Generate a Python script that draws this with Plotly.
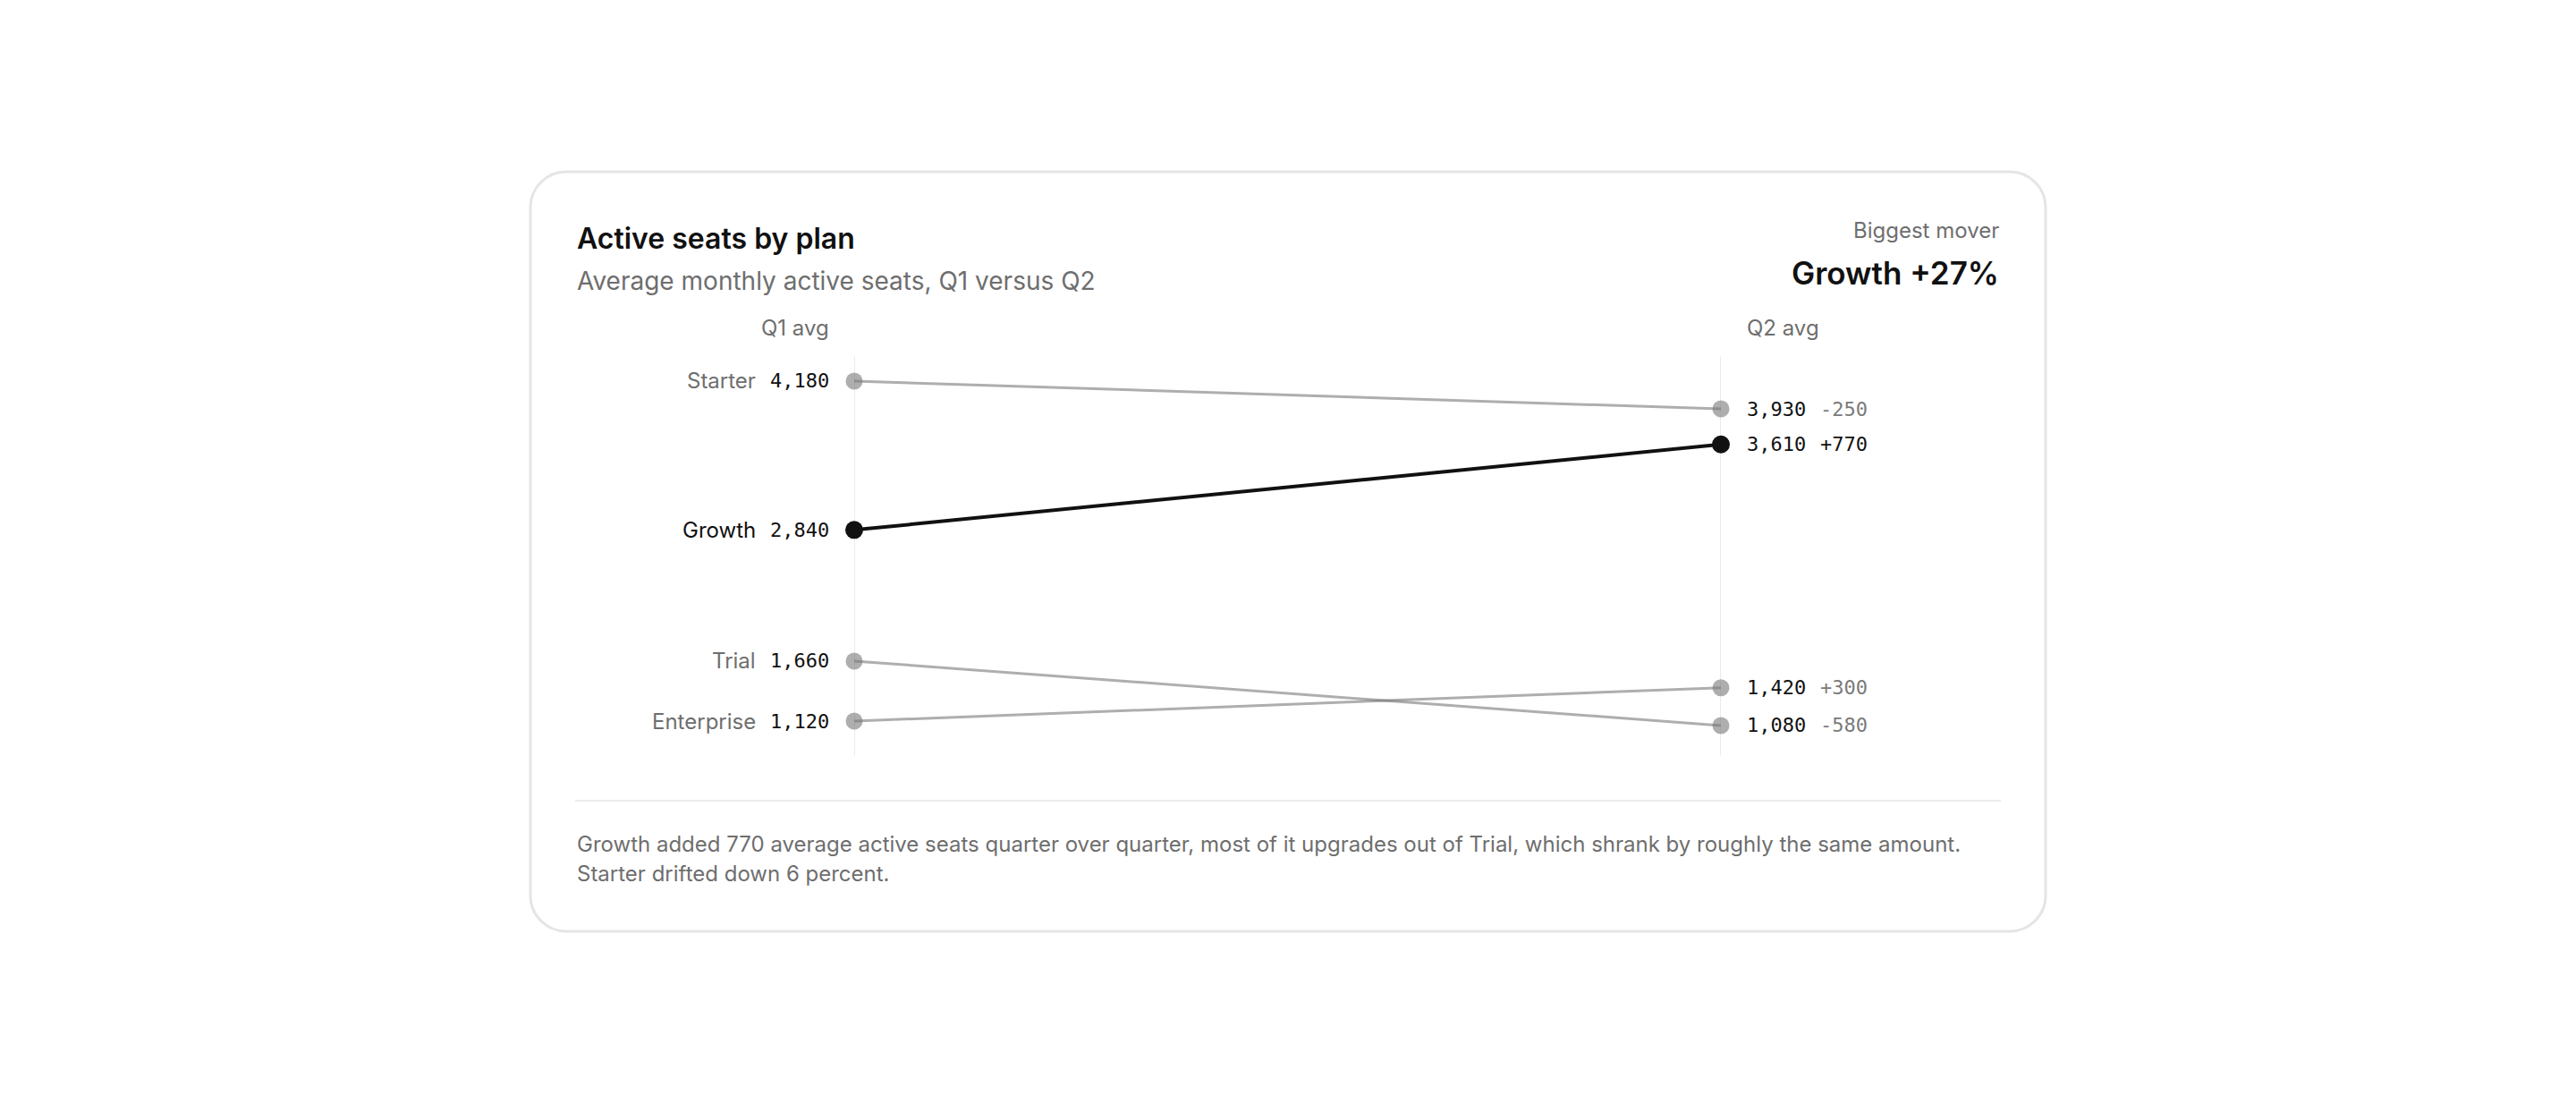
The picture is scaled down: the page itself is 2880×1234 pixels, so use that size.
import plotly.graph_objects as go

# ---- data ----
plans = ["Starter", "Growth", "Trial", "Enterprise"]
q1_avg = [4180, 2840, 1660, 1120]
q2_avg = [3930, 3610, 1080, 1420]
highlight = "Growth"
periods = ["Q1 avg", "Q2 avg"]

title = "Active seats by plan"
subtitle = "Average monthly active seats, Q1 versus Q2"
kpi_label = "Biggest mover"
kpi_value = "Growth +27%"
footnote = [
    "Growth added 770 average active seats quarter over quarter, most of it upgrades out of Trial, which shrank by roughly the same amount.",
    "Starter drifted down 6 percent.",
]

# ---- page geometry (pixels) ----
W, H = 2880, 1234
def px(x):
    return x / W
def py(y):
    return 1 - y / H

SANS = "Inter, 'Noto Sans', sans-serif"
MONO = "'DejaVu Sans Mono', monospace"
INK = "#111111"
MUTED = "#6e6e6e"
GREY = "rgba(120,120,120,0.6)"

plot_left, plot_right = 955, 1924
plot_top, plot_bottom = 398, 845
content_left, content_right = 643, 2237

fig = go.Figure()

for name, a, b in zip(plans, q1_avg, q2_avg):
    hi = name == highlight
    fig.add_trace(go.Scatter(
        x=[0, 1], y=[a, b], mode="lines+markers",
        line=dict(color=INK if hi else GREY, width=4 if hi else 3),
        marker=dict(size=20 if hi else 19, color=INK if hi else GREY),
        cliponaxis=False, hoverinfo="skip", showlegend=False,
    ))

annotations = []
for name, a, b in zip(plans, q1_avg, q2_avg):
    hi = name == highlight
    d = b - a
    annotations.append(dict(x=0, y=a, xref="x", yref="y", text=name, showarrow=False,
                            xanchor="right", yanchor="middle", xshift=-108,
                            font=dict(family=SANS, size=24, color=INK if hi else MUTED)))
    annotations.append(dict(x=0, y=a, xref="x", yref="y", text=f"{a:,}", showarrow=False,
                            xanchor="right", yanchor="middle", xshift=-26,
                            font=dict(family=MONO, size=22, color=INK)))
    annotations.append(dict(x=1, y=b, xref="x", yref="y", text=f"{b:,}", showarrow=False,
                            xanchor="left", yanchor="middle", xshift=27,
                            font=dict(family=MONO, size=22, color=INK)))
    annotations.append(dict(x=1, y=b, xref="x", yref="y", text=f"{d:+,}", showarrow=False,
                            xanchor="left", yanchor="middle", xshift=109,
                            font=dict(family=MONO, size=22, color=INK if hi else "#7a7a7a")))

# column headers
annotations.append(dict(x=0, y=py(366), xref="x", yref="paper", text=periods[0], showarrow=False,
                        xanchor="right", yanchor="middle", xshift=-26,
                        font=dict(family=SANS, size=24, color=MUTED)))
annotations.append(dict(x=1, y=py(366), xref="x", yref="paper", text=periods[1], showarrow=False,
                        xanchor="left", yanchor="middle", xshift=27,
                        font=dict(family=SANS, size=24, color=MUTED)))

# header texts
annotations += [
    dict(x=px(content_left), y=py(266), xref="paper", yref="paper", text=title, showarrow=False,
         xanchor="left", yanchor="middle", font=dict(family=SANS, size=32, color=INK, weight=600)),
    dict(x=px(content_left), y=py(314), xref="paper", yref="paper", text=subtitle, showarrow=False,
         xanchor="left", yanchor="middle", font=dict(family=SANS, size=28, color=MUTED)),
    dict(x=px(content_right), y=py(257), xref="paper", yref="paper", text=kpi_label, showarrow=False,
         xanchor="right", yanchor="middle", font=dict(family=SANS, size=24, color=MUTED)),
    dict(x=px(content_right), y=py(305), xref="paper", yref="paper", text=kpi_value, showarrow=False,
         xanchor="right", yanchor="middle", font=dict(family=SANS, size=35, color=INK, weight=600)),
    dict(x=px(content_left), y=py(943), xref="paper", yref="paper", text=footnote[0], showarrow=False,
         xanchor="left", yanchor="middle", font=dict(family=SANS, size=24, color=MUTED)),
    dict(x=px(content_left), y=py(976), xref="paper", yref="paper", text=footnote[1], showarrow=False,
         xanchor="left", yanchor="middle", font=dict(family=SANS, size=24, color=MUTED)),
]

# card with rounded corners
x0, x1, y0, y1, r = 593, 2287, 192, 1041, 40
k = 0.5523 * r
def P(x, y):
    return f"{px(x):.6f},{py(y):.6f}"
card = (f"M {P(x0 + r, y0)} L {P(x1 - r, y0)} "
        f"C {P(x1 - r + k, y0)} {P(x1, y0 + r - k)} {P(x1, y0 + r)} "
        f"L {P(x1, y1 - r)} "
        f"C {P(x1, y1 - r + k)} {P(x1 - r + k, y1)} {P(x1 - r, y1)} "
        f"L {P(x0 + r, y1)} "
        f"C {P(x0 + r - k, y1)} {P(x0, y1 - r + k)} {P(x0, y1 - r)} "
        f"L {P(x0, y0 + r)} "
        f"C {P(x0, y0 + r - k)} {P(x0 + r - k, y0)} {P(x0 + r, y0)} Z")

shapes = [
    dict(type="path", xref="paper", yref="paper", path=card,
         line=dict(color="#e5e5e5", width=3), fillcolor="white", layer="below"),
    dict(type="line", xref="x", yref="paper", x0=0, x1=0, y0=py(plot_bottom), y1=py(plot_top),
         line=dict(color="#ebebeb", width=2), layer="below"),
    dict(type="line", xref="x", yref="paper", x0=1, x1=1, y0=py(plot_bottom), y1=py(plot_top),
         line=dict(color="#ebebeb", width=2), layer="below"),
    dict(type="line", xref="paper", yref="paper", x0=px(content_left), x1=px(content_right),
         y0=py(895), y1=py(895), line=dict(color="#ececec", width=2), layer="below"),
]

# y scale: 4180 -> 426px, 1080 -> 811px
y_lo, y_hi = 806, 4405

fig.update_layout(
    width=W, height=H, margin=dict(l=0, r=0, t=0, b=0, pad=0),
    paper_bgcolor="white", plot_bgcolor="rgba(0,0,0,0)",
    xaxis=dict(domain=[px(plot_left), px(plot_right)], range=[0, 1], visible=False, fixedrange=True),
    yaxis=dict(domain=[py(plot_bottom), py(plot_top)], range=[y_lo, y_hi], visible=False, fixedrange=True),
    annotations=annotations, shapes=shapes, showlegend=False,
)

fig.write_html("out.html", config={"displayModeBar": False},
               post_script="document.body.style.margin='0';document.body.style.overflow='hidden';")
